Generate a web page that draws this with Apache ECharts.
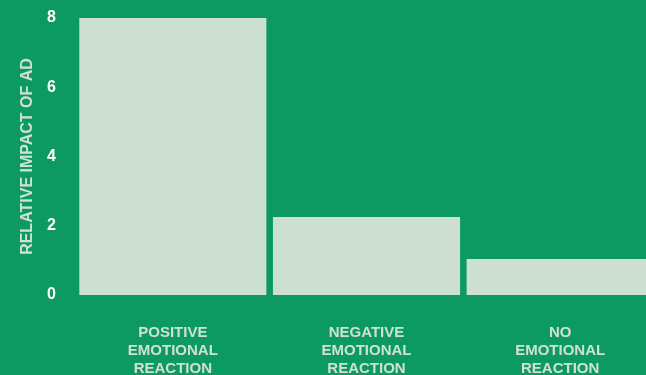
<!DOCTYPE html>
<html>
<head>
<meta charset="utf-8">
<style>
  html, body { margin: 0; padding: 0; background: #0d9a62; }
  #chart { width: 646px; height: 375px; }
</style>
<script src="https://cdn.jsdelivr.net/npm/echarts@6/dist/echarts.min.js"></script>
</head>
<body>
<div id="chart"></div>
<script>
// Emotional reaction categories and their relative ad impact
const categories = ['POSITIVE\nEMOTIONAL\nREACTION', 'NEGATIVE\nEMOTIONAL\nREACTION', 'NO\nEMOTIONAL\nREACTION'];
const impact = [8, 2.25, 1.04];
const yTicks = [0, 2, 4, 6, 8];

const FONT = '"Liberation Sans", Arial, sans-serif';

const chart = echarts.init(document.getElementById('chart'));
chart.setOption({
  backgroundColor: '#0d9a62',
  animation: false,
  // the last column runs past the right edge of the canvas
  grid: { left: 76, top: 18, width: 581, height: 277, outerBoundsMode: 'none' },
  xAxis: {
    type: 'category',
    data: categories,
    axisLine: { show: false },
    axisTick: { show: false },
    axisLabel: {
      color: '#cfe0d4',
      fontFamily: FONT,
      fontWeight: 'bold',
      fontSize: 15,
      lineHeight: 18,
      margin: 29,
      interval: 0
    }
  },
  yAxis: {
    type: 'value',
    min: yTicks[0],
    max: yTicks[yTicks.length - 1],
    interval: 2,
    name: 'RELATIVE IMPACT OF AD',
    nameLocation: 'middle',
    nameGap: 40,
    nameTextStyle: {
      color: '#cfe0d4',
      fontFamily: FONT,
      fontWeight: 'bold',
      fontSize: 16
    },
    splitLine: { show: false },
    axisLine: { show: false },
    axisTick: { show: false },
    axisLabel: {
      color: '#ffffff',
      fontFamily: FONT,
      fontWeight: 'bold',
      fontSize: 16,
      margin: 20
    }
  },
  series: [{
    type: 'bar',
    data: impact,
    barCategoryGap: '3.4%',
    itemStyle: { color: '#cddfd1' }
  }]
});
</script>
</body>
</html>
